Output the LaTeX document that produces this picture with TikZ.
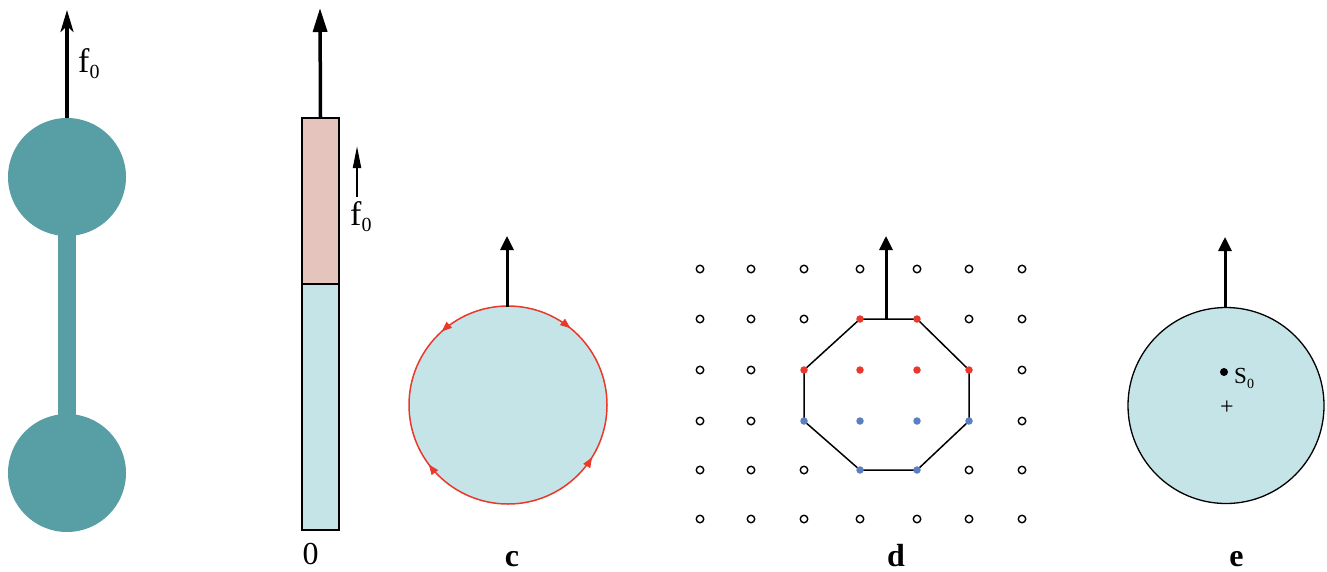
\documentclass[tikz,border=0pt]{standalone}
\usepackage{fontspec}
\setmainfont{Liberation Serif}
\usetikzlibrary{arrows.meta}
\definecolor{dumbteal}{HTML}{579FA4}
\definecolor{rodpink}{HTML}{E4C4BC}
\definecolor{paleblue}{HTML}{C5E4E7}
\definecolor{ptred}{HTML}{E8392B}
\definecolor{ptblue}{HTML}{5B7FC0}
\begin{document}
\begin{tikzpicture}[x=1pt,y=-1pt,
  ball/.style={circle,fill=dumbteal,minimum size=118pt,inner sep=0pt},
  bigarrow/.style={line width=3.5pt,-{Triangle[length=24pt,width=14pt]}},
  midarrow/.style={line width=3pt,-{Triangle[length=14pt,width=13pt]}},
  redtip/.style={draw=ptred,line width=0.8pt,-{Triangle[length=10pt,width=8pt,fill=ptred]}},
  opendot/.style={circle,draw=black,line width=1.4pt,minimum size=7.5pt,inner sep=0pt,fill=white},
  reddot/.style={circle,fill=ptred,minimum size=7.5pt,inner sep=0pt},
  bluedot/.style={circle,fill=ptblue,minimum size=7.5pt,inner sep=0pt},
  lab/.style={font=\fontsize{32}{34}\selectfont\bfseries,anchor=base},
  flab/.style={font=\fontsize{34}{36}\selectfont,anchor=base west,inner sep=0pt},
]
\useasboundingbox (0,0) rectangle (1327,571);

% ---- panel a : dumbbell
\node[draw=none,fill=dumbteal,minimum width=18pt,minimum height=200pt,inner sep=0pt] (bar) at (67,325) {};
\node[ball] (topball) at (67,177) {};
\node[ball] (botball) at (67,473) {};
\coordinate (atip) at (67,10);
\draw[line width=3.5pt,-{Stealth[length=22pt,width=13pt,inset=6pt]}] (topball.north) -- (atip);
\node[flab] (fa) at (78,72) {f\raisebox{-6pt}{\fontsize{20}{20}\selectfont 0}};

% ---- panel b : rod
\node[draw=black,line width=1.3pt,fill=rodpink,minimum width=37pt,minimum height=166pt,inner sep=0pt] (pink) at (320.5,201) {};
\node[draw=black,line width=1.3pt,fill=paleblue,minimum width=37pt,minimum height=246pt,inner sep=0pt] (blue) at (320.5,407) {};
\coordinate (btip) at (320,8);
\draw[bigarrow] (pink.north) -- (btip);
\coordinate (sa) at (357,197);
\coordinate (sb) at (357,146);
\draw[line width=2pt,-{Triangle[length=22pt,width=8pt]}] (sa) -- (sb);
\node[flab] (fb) at (350,225) {f\raisebox{-6pt}{\fontsize{20}{20}\selectfont 0}};
\node[font=\fontsize{32}{34}\selectfont,anchor=base,inner sep=0pt] (lb) at (310.5,564) {0};

% ---- panel c : circle with red flow
\node[circle,draw=ptred,line width=1.5pt,fill=paleblue,minimum size=198pt,inner sep=0pt] (cc) at (508,405) {};
\coordinate (ctip) at (507,236);
\draw[midarrow] (507,307) -- (ctip);
\coordinate (c1a) at (445.5,328.1); \coordinate (c1b) at (441.8,331.4);
\coordinate (c2a) at (566.4,325.0); \coordinate (c2b) at (570.3,328.1);
\coordinate (c3a) at (431.9,468.6); \coordinate (c3b) at (428.9,464.6);
\coordinate (c4a) at (589.35,461.74); \coordinate (c4b) at (592,457.5);
\foreach \p in {1,2,3,4} {\draw[redtip] (c\p a) -- (c\p b);}
\node[lab] (lc) at (512,566) {c};

% ---- panel d : lattice
\draw[line width=1.5pt,line join=round] (860,319) -- (917,319) -- (969,370) -- (969,421) -- (917,470) -- (860,470) -- (804,421) -- (804,370) -- cycle;
\foreach \x in {700,751,804,860,917,969,1022} {
  \node[opendot] (g\x-269) at (\x,269) {};
  \node[opendot] (g\x-519) at (\x,519) {};
}
\foreach \x in {700,751,804,969,1022} {
  \node[opendot] (g\x-319) at (\x,319) {};
  \node[opendot] (g\x-470) at (\x,470) {};
}
\foreach \x in {700,751,1022} {
  \node[opendot] (g\x-370) at (\x,370) {};
  \node[opendot] (g\x-421) at (\x,421) {};
}
\foreach \x/\y [count=\i] in {860/319,917/319,804/370,860/370,917/370,969/370} {
  \node[reddot] (r\i) at (\x,\y) {};
}
\foreach \x/\y [count=\i] in {804/421,860/421,917/421,969/421,860/470,917/470} {
  \node[bluedot] (b\i) at (\x,\y) {};
}
\coordinate (dbase) at (886,319);
\coordinate (dtip) at (886,236);
\draw[midarrow] (dbase) -- (dtip);
\node[lab] (ld) at (896,566) {d};

% ---- panel e : circle with S0
\node[circle,draw=black,line width=1.3pt,fill=paleblue,minimum size=196pt,inner sep=0pt] (ec) at (1226,405.5) {};
\coordinate (etip) at (1225,237);
\draw[midarrow] (1225,308) -- (etip);
\node[circle,fill=black,minimum size=8pt,inner sep=0pt] (s0) at (1224,372) {};
\node[font=\fontsize{23}{24}\selectfont,anchor=base west,inner sep=0pt] (s0l) at (1234,383) {S\raisebox{-5pt}{\fontsize{14}{14}\selectfont 0}};
\node[font=\fontsize{24}{24}\selectfont,inner sep=0pt] (plus) at (1227,408) {+};
\node[lab] (le) at (1236.5,566) {e};
\end{tikzpicture}
\end{document}
